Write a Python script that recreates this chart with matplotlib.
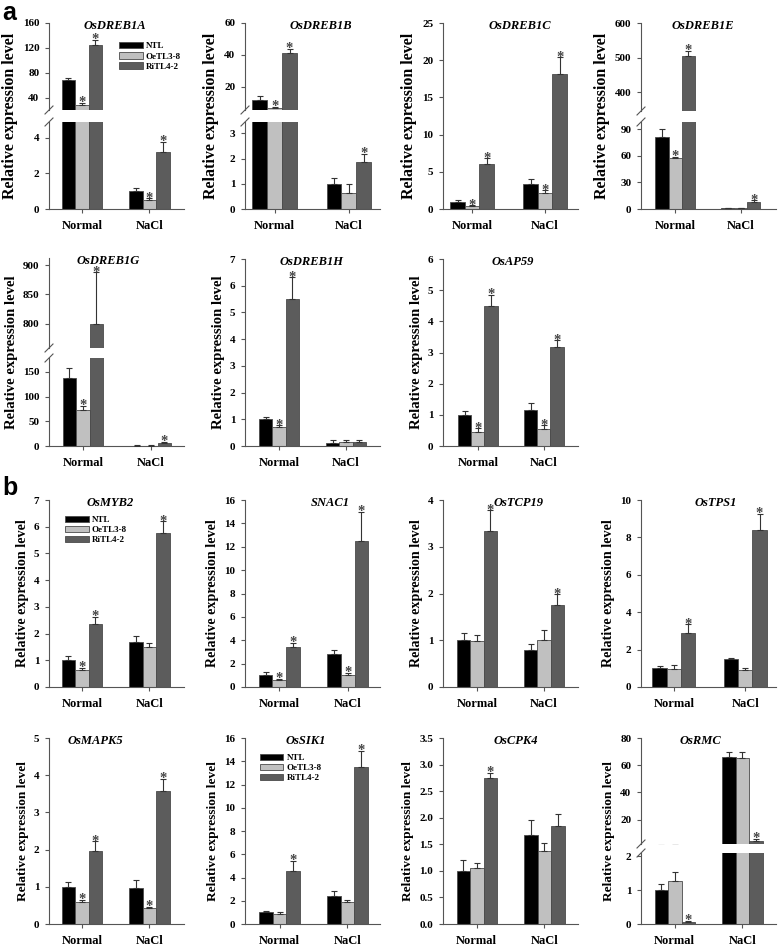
import numpy as np
import matplotlib
matplotlib.use("Agg")
import matplotlib.pyplot as plt
from matplotlib.lines import Line2D

plt.rcParams["font.family"] = ["Liberation Serif", "DejaVu Serif"]
plt.rcParams["font.weight"] = "bold"

conditions = ["Normal", "NaCl"]
genotypes = ["NTL", "OeTL3-8", "RiTL4-2"]

# rows = genotypes (NTL, OeTL3-8, RiTL4-2), cols = conditions (Normal, NaCl)
dreb1a_mean = [[68, 1.0], [28, 0.5], [125, 3.2]]
dreb1a_err = [[4, 0.2], [4, 0.1], [8, 0.6]]
dreb1a_sig = [[0, 0], [1, 1], [1, 1]]

dreb1b_mean = [[12, 1.0], [6.5, 0.65], [41, 1.88]]
dreb1b_err = [[2.5, 0.22], [1, 0.35], [3, 0.3]]
dreb1b_sig = [[0, 0], [1, 0], [1, 1]]

dreb1c_mean = [[1.0, 3.35], [0.4, 2.2], [6.1, 18.1]]
dreb1c_err = [[0.15, 0.7], [0.1, 0.3], [0.7, 2.3]]
dreb1c_sig = [[0, 0], [1, 1], [1, 1]]

dreb1e_mean = [[81, 1.0], [57, 1.0], [505, 8]]
dreb1e_err = [[9, 0.3], [2, 0.3], [15, 2]]
dreb1e_sig = [[0, 0], [1, 0], [1, 1]]

dreb1g_mean = [[138, 1.0], [73, 1.0], [800, 7]]
dreb1g_err = [[20, 0.3], [8, 0.3], [88, 2]]
dreb1g_sig = [[0, 0], [1, 0], [1, 1]]

dreb1h_mean = [[1.0, 0.12], [0.7, 0.14], [5.5, 0.15]]
dreb1h_err = [[0.1, 0.1], [0.07, 0.07], [0.82, 0.07]]
dreb1h_sig = [[0, 0], [1, 0], [1, 0]]

ap59_mean = [[1.0, 1.17], [0.45, 0.55], [4.5, 3.17]]
ap59_err = [[0.13, 0.22], [0.12, 0.12], [0.35, 0.23]]
ap59_sig = [[0, 0], [1, 1], [1, 1]]

myb2_mean = [[1.0, 1.7], [0.65, 1.48], [2.37, 5.75]]
myb2_err = [[0.15, 0.22], [0.07, 0.17], [0.25, 0.45]]
myb2_sig = [[0, 0], [1, 0], [1, 1]]

snac1_mean = [[1.0, 2.8], [0.6, 1.0], [3.45, 12.5]]
snac1_err = [[0.25, 0.35], [0.1, 0.2], [0.35, 2.5]]
snac1_sig = [[0, 0], [1, 1], [1, 1]]

tcp19_mean = [[1.0, 0.8], [0.98, 1.0], [3.33, 1.75]]
tcp19_err = [[0.15, 0.12], [0.13, 0.22], [0.45, 0.23]]
tcp19_sig = [[0, 0], [0, 0], [1, 1]]

tps1_mean = [[1.0, 1.48], [0.97, 0.92], [2.9, 8.4]]
tps1_err = [[0.1, 0.06], [0.2, 0.1], [0.45, 0.85]]
tps1_sig = [[0, 0], [0, 0], [1, 1]]

mapk5_mean = [[1.0, 0.98], [0.6, 0.42], [1.95, 3.58]]
mapk5_err = [[0.13, 0.21], [0.05, 0.05], [0.27, 0.32]]
mapk5_sig = [[0, 0], [1, 1], [1, 1]]

sik1_mean = [[1.0, 2.45], [0.9, 1.9], [4.6, 13.5]]
sik1_err = [[0.1, 0.4], [0.1, 0.2], [0.85, 1.4]]
sik1_sig = [[0, 0], [0, 0], [1, 1]]

cpk4_mean = [[1.0, 1.68], [1.05, 1.38], [2.75, 1.85]]
cpk4_err = [[0.2, 0.27], [0.1, 0.15], [0.1, 0.22]]
cpk4_sig = [[0, 0], [0, 0], [1, 0]]

rmc_mean = [[1.0, 66], [1.28, 65], [0.07, 4.5]]
rmc_err = [[0.18, 4], [0.25, 5], [0.02, 1.5]]
rmc_sig = [[0, 0], [0, 0], [1, 1]]

# ---------------------------------------------------------------------------
# layout (pixels in the 778 x 947 canvas)
# ---------------------------------------------------------------------------
W, H = 778, 947
COL_X = [49, 245, 443, 641]
AX_W = 135
ROWS = [(23, 209), (259, 446), (500, 687), (738, 924)]
YLABEL_SIZE = [11.5, 10.6, 10.2, 9.6]
BW = 0.2

BAR_COLORS = ["#000000", "#c0c0c0", "#5c5c5c"]
EDGE = "#4a4a4a"
AXC = "#555555"
ERRC = "#333333"


def single(row, ylim, ticks):
    return [(ylim, ticks, ROWS[row][0], ROWS[row][1])]


panels = [
    dict(gene="OsDREB1A", mean=dreb1a_mean, err=dreb1a_err, sig=dreb1a_sig, col=0, row=0,
         segs=[((20, 160), [40, 80, 120, 160], 23, 110), ((0, 4.9), [0, 2, 4], 122, 209)],
         xlim=(-0.485, 1.51), tx=0.49, legend=(0.52, 0.78)),
    dict(gene="OsDREB1B", mean=dreb1b_mean, err=dreb1b_err, sig=dreb1b_sig, col=1, row=0,
         segs=[((5.5, 60), [20, 40, 60], 23, 110), ((0, 3.45), [0, 1, 2, 3], 122, 209)],
         xlim=(-0.4, 1.42), tx=0.56),
    dict(gene="OsDREB1C", mean=dreb1c_mean, err=dreb1c_err, sig=dreb1c_sig, col=2, row=0,
         segs=single(0, (0, 25), [0, 5, 10, 15, 20, 25]), xlim=(-0.4, 1.45), tx=0.57),
    dict(gene="OsDREB1E", mean=dreb1e_mean, err=dreb1e_err, sig=dreb1e_sig, col=3, row=0,
         segs=[((345, 600), [400, 500, 600], 23, 111), ((0, 98), [0, 30, 60, 90], 122, 209)],
         xlim=(-0.52, 1.54), tx=0.46),
    dict(gene="OsDREB1G", mean=dreb1g_mean, err=dreb1g_err, sig=dreb1g_sig, col=0, row=1,
         segs=[((759, 912), [800, 850, 900], 258, 348), ((0, 178), [0, 50, 100, 150], 358, 446)],
         xlim=(-0.5, 1.49), tx=0.44),
    dict(gene="OsDREB1H", mean=dreb1h_mean, err=dreb1h_err, sig=dreb1h_sig, col=1, row=1,
         segs=single(1, (0, 7), list(range(8))), xlim=(-0.51, 1.51), tx=0.49),
    dict(gene="OsAP59", mean=ap59_mean, err=ap59_err, sig=ap59_sig, col=2, row=1,
         segs=single(1, (0, 6), list(range(7))), xlim=(-0.53, 1.52), tx=0.52),
    dict(gene="OsMYB2", mean=myb2_mean, err=myb2_err, sig=myb2_sig, col=0, row=2,
         segs=single(2, (0, 7), list(range(8))), xlim=(-0.485, 1.51), tx=0.45,
         legend=(0.12, 0.915)),
    dict(gene="SNAC1", mean=snac1_mean, err=snac1_err, sig=snac1_sig, col=1, row=2,
         segs=single(2, (0, 16), list(range(0, 17, 2))), xlim=(-0.5, 1.47), tx=0.63),
    dict(gene="OsTCP19", mean=tcp19_mean, err=tcp19_err, sig=tcp19_sig, col=2, row=2,
         segs=single(2, (0, 4), list(range(5))), xlim=(-0.51, 1.51), tx=0.56),
    dict(gene="OsTPS1", mean=tps1_mean, err=tps1_err, sig=tps1_sig, col=3, row=2,
         segs=single(2, (0, 10), list(range(0, 11, 2))), xlim=(-0.46, 1.43), tx=0.55),
    dict(gene="OsMAPK5", mean=mapk5_mean, err=mapk5_err, sig=mapk5_sig, col=0, row=3,
         segs=single(3, (0, 5), list(range(6))), xlim=(-0.485, 1.51), tx=0.34),
    dict(gene="OsSIK1", mean=sik1_mean, err=sik1_err, sig=sik1_sig, col=1, row=3,
         segs=single(3, (0, 16), list(range(0, 17, 2))), xlim=(-0.51, 1.48), tx=0.45,
         legend=(0.11, 0.915)),
    dict(gene="OsCPK4", mean=cpk4_mean, err=cpk4_err, sig=cpk4_sig, col=2, row=3,
         segs=single(3, (0, 3.5), list(np.arange(0, 3.51, 0.5))), xlim=(-0.5, 1.5), tx=0.54),
    dict(gene="OsRMC", mean=rmc_mean, err=rmc_err, sig=rmc_sig, col=3, row=3,
         segs=[((2.2, 80), [20, 40, 60, 80], 738, 844), ((0, 2.1), [0, 1, 2], 853, 924)],
         xlim=(-0.5, 1.5), tx=0.44),
]

fig = plt.figure(figsize=(W / 100, H / 100), dpi=100)


def add_ax(left, top, bottom):
    return fig.add_axes([left / W, 1 - bottom / H, AX_W / W, (bottom - top) / H])


def slash(x, y):
    # small "/" across the y spine, given in canvas pixels
    fig.add_artist(Line2D([(x - 4) / W, (x + 4) / W], [1 - (y + 4) / H, 1 - (y - 4) / H],
                          color=AXC, lw=0.8, transform=fig.transFigure))


def draw_panel(p):
    left = COL_X[p["col"]]
    segs = p["segs"]
    axes = []
    x = np.arange(len(conditions))
    for k, (ylim, yticks, top, bottom) in enumerate(segs):
        ax = add_ax(left, top, bottom)
        last = k == len(segs) - 1
        for i, g in enumerate(genotypes):
            xs = x + (i - 1) * BW
            m = np.array(p["mean"][i], float)
            e = np.array(p["err"][i], float)
            ax.bar(xs, m, BW, color=BAR_COLORS[i], edgecolor=EDGE, linewidth=0.6,
                   label=g, zorder=2)
            ax.errorbar(xs, m, yerr=[np.zeros_like(e), e], fmt="none", ecolor=ERRC,
                        elinewidth=0.8, capsize=2.2, capthick=0.8, zorder=3)
            for j in range(len(conditions)):
                if not p["sig"][i][j]:
                    continue
                tv = m[j] + e[j]
                # put the star in the first segment that holds the error bar top
                owner = next(kk for kk, s in enumerate(segs) if s[0][0] <= tv < s[0][1])
                if owner == k:
                    ax.annotate("*", (xs[j], tv), xytext=(0, -2.5), textcoords="offset points",
                                ha="center", va="baseline", fontsize=10.5, color="#444444",
                                annotation_clip=False)
        ax.set_xlim(p["xlim"])
        ax.set_ylim(ylim)
        ax.set_yticks(yticks)
        ax.spines[["top", "right"]].set_visible(False)
        for s in ("left", "bottom"):
            ax.spines[s].set_color(AXC)
            ax.spines[s].set_linewidth(0.8)
        ax.tick_params(axis="y", direction="out", length=3, width=0.8, color=AXC,
                       labelsize=8, pad=4)
        if last:
            ax.set_xticks(x)
            ax.set_xticklabels(conditions, fontsize=9, fontweight="bold")
            ax.tick_params(axis="x", direction="out", length=3, width=0.8, color=AXC, pad=5)
        else:
            ax.spines["bottom"].set_visible(False)
            ax.set_xticks([])
        axes.append(ax)

    for k in range(len(segs) - 1):
        slash(left, segs[k][3])
        slash(left, segs[k + 1][2])

    axes[0].annotate(p["gene"], (p["tx"], 1.0), xycoords="axes fraction", xytext=(0, -2),
                     textcoords="offset points", ha="center", va="center", fontsize=9,
                     fontweight="bold", style="italic")

    if "legend" in p:
        axes[0].legend(loc="upper left", bbox_to_anchor=p["legend"], frameon=False,
                       fontsize=6.5, borderpad=0, borderaxespad=0, handlelength=2.6,
                       handleheight=0.7, handletextpad=0.35, labelspacing=0.2)
    return axes


all_axes = [draw_panel(p) for p in panels]

# y labels, placed left of the widest tick label of each panel
fig.canvas.draw()
renderer = fig.canvas.get_renderer()
for p, axes in zip(panels, all_axes):
    x0 = min(t.get_window_extent(renderer).x0
             for ax in axes for t in ax.get_yticklabels() if t.get_text())
    top = p["segs"][0][2]
    bottom = p["segs"][-1][3]
    fig.text((x0 - 5) / W, 1 - (top + bottom) / 2 / H, "Relative expression level",
             rotation=90, ha="right", va="center", fontsize=YLABEL_SIZE[p["row"]],
             fontweight="bold")

fig.text(2 / W, 1 - 1 / H, "a", fontsize=18, fontweight="bold", va="top",
         family=["Liberation Sans", "DejaVu Sans"])
fig.text(2 / W, 1 - 476 / H, "b", fontsize=18, fontweight="bold", va="top",
         family=["Liberation Sans", "DejaVu Sans"])

fig.savefig("out.png", dpi=100)
